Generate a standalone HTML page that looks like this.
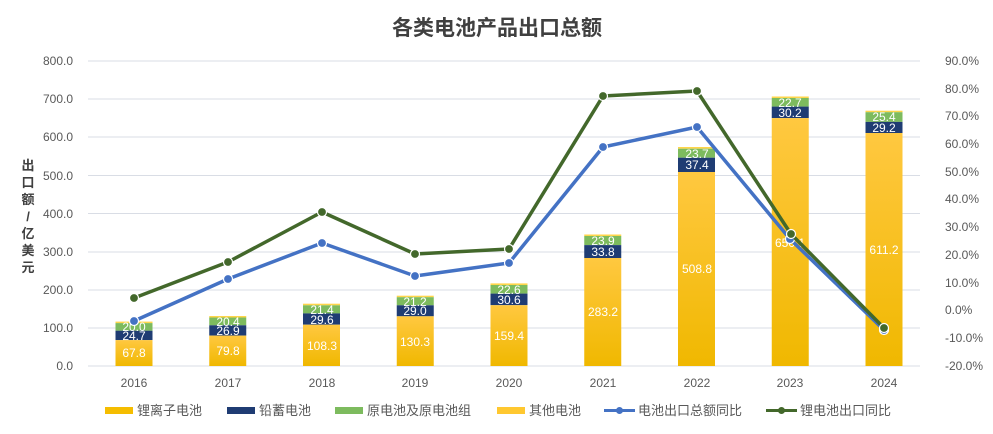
<!DOCTYPE html>
<html><head><meta charset="utf-8"><style>
html,body{margin:0;padding:0;background:#fff;}
svg{display:block;font-family:"Liberation Sans","Noto Sans CJK SC",sans-serif;}
</style></head><body>
<svg width="993" height="434" viewBox="0 0 993 434" xmlns="http://www.w3.org/2000/svg">
<defs>
<linearGradient id="gy" x1="0" y1="0" x2="0" y2="1"><stop offset="0" stop-color="#ffc840"/><stop offset="1" stop-color="#f0b800"/></linearGradient>
</defs>
<text x="497" y="35" text-anchor="middle" font-size="21" font-weight="bold" fill="#404040">各类电池产品出口总额</text>
<g stroke="#d9dde5" stroke-width="1">
<line x1="88" x2="920" y1="61" y2="61"/><line x1="88" x2="920" y1="99" y2="99"/><line x1="88" x2="920" y1="137" y2="137"/><line x1="88" x2="920" y1="175.5" y2="175.5"/><line x1="88" x2="920" y1="213.5" y2="213.5"/><line x1="88" x2="920" y1="252" y2="252"/><line x1="88" x2="920" y1="290" y2="290"/><line x1="88" x2="920" y1="328" y2="328"/><line x1="88" x2="920" y1="366" y2="366"/>
</g>
<g font-size="12" fill="#595959" text-anchor="end">
<text x="73" y="65">800.0</text><text x="73" y="103">700.0</text><text x="73" y="141">600.0</text><text x="73" y="180">500.0</text><text x="73" y="218">400.0</text><text x="73" y="256">300.0</text><text x="73" y="294">200.0</text><text x="73" y="332">100.0</text><text x="73" y="370">0.0</text>
</g>
<g font-size="12" fill="#595959" text-anchor="start">
<text x="945" y="65">90.0%</text><text x="945" y="93">80.0%</text><text x="945" y="120">70.0%</text><text x="945" y="148">60.0%</text><text x="945" y="176">50.0%</text><text x="945" y="203">40.0%</text><text x="945" y="231">30.0%</text><text x="945" y="259">20.0%</text><text x="945" y="287">10.0%</text><text x="945" y="314">0.0%</text><text x="945" y="342">-10.0%</text><text x="945" y="370">-20.0%</text>
</g>
<g font-size="13" fill="#404040" font-weight="bold" text-anchor="middle">
<text x="28" y="170">出</text><text x="28" y="187">口</text><text x="28" y="204">额</text><text x="28" y="221">/</text><text x="28" y="238">亿</text><text x="28" y="255">美</text><text x="28" y="272">元</text>
</g>
<g font-size="12" fill="#595959" text-anchor="middle">
<text x="134" y="387">2016</text><text x="228" y="387">2017</text><text x="322" y="387">2018</text><text x="415" y="387">2019</text><text x="509" y="387">2020</text><text x="603" y="387">2021</text><text x="697" y="387">2022</text><text x="790" y="387">2023</text><text x="884" y="387">2024</text>
</g>
<g>
<rect x="115.5" y="321.6" width="37" height="1.5" fill="#ffd54a"/><rect x="115.5" y="323.1" width="37" height="7.6" fill="#7dbb5e"/><rect x="115.5" y="330.7" width="37" height="9.4" fill="#1f3c73"/><rect x="115.5" y="340.1" width="37" height="25.9" fill="url(#gy)"/>
<rect x="209.25" y="316" width="37" height="1.5" fill="#ffd54a"/><rect x="209.25" y="317.5" width="37" height="7.8" fill="#7dbb5e"/><rect x="209.25" y="325.3" width="37" height="10.3" fill="#1f3c73"/><rect x="209.25" y="335.6" width="37" height="30.4" fill="url(#gy)"/>
<rect x="303" y="303.7" width="37" height="1.6" fill="#ffd54a"/><rect x="303" y="305.3" width="37" height="8.1" fill="#7dbb5e"/><rect x="303" y="313.4" width="37" height="11.3" fill="#1f3c73"/><rect x="303" y="324.7" width="37" height="41.3" fill="url(#gy)"/>
<rect x="396.75" y="295.7" width="37" height="1.5" fill="#ffd54a"/><rect x="396.75" y="297.2" width="37" height="8.1" fill="#7dbb5e"/><rect x="396.75" y="305.3" width="37" height="11" fill="#1f3c73"/><rect x="396.75" y="316.3" width="37" height="49.7" fill="url(#gy)"/>
<rect x="490.5" y="283.4" width="37" height="1.6" fill="#ffd54a"/><rect x="490.5" y="285" width="37" height="8.6" fill="#7dbb5e"/><rect x="490.5" y="293.6" width="37" height="11.6" fill="#1f3c73"/><rect x="490.5" y="305.2" width="37" height="60.8" fill="url(#gy)"/>
<rect x="584.25" y="234.5" width="37" height="1.5" fill="#ffd54a"/><rect x="584.25" y="236" width="37" height="9.1" fill="#7dbb5e"/><rect x="584.25" y="245.1" width="37" height="12.9" fill="#1f3c73"/><rect x="584.25" y="258" width="37" height="108" fill="url(#gy)"/>
<rect x="678" y="147" width="37" height="1.7" fill="#ffd54a"/><rect x="678" y="148.7" width="37" height="9" fill="#7dbb5e"/><rect x="678" y="157.7" width="37" height="14.3" fill="#1f3c73"/><rect x="678" y="172" width="37" height="194" fill="url(#gy)"/>
<rect x="771.75" y="96.5" width="37" height="1.5" fill="#ffd54a"/><rect x="771.75" y="98" width="37" height="8.6" fill="#7dbb5e"/><rect x="771.75" y="106.6" width="37" height="11.5" fill="#1f3c73"/><rect x="771.75" y="118.1" width="37" height="247.9" fill="url(#gy)"/>
<rect x="865.5" y="110.7" width="37" height="1.5" fill="#ffd54a"/><rect x="865.5" y="112.2" width="37" height="9.7" fill="#7dbb5e"/><rect x="865.5" y="121.9" width="37" height="11.1" fill="#1f3c73"/><rect x="865.5" y="133" width="37" height="233" fill="url(#gy)"/>
</g>
<g font-size="12" fill="#fff" text-anchor="middle">
<text x="134" y="357">67.8</text><text x="134" y="340">24.7</text><text x="134" y="331">20.0</text>
<text x="228" y="355">79.8</text><text x="228" y="335">26.9</text><text x="228" y="326">20.4</text>
<text x="322" y="350">108.3</text><text x="322" y="324">29.6</text><text x="322" y="314">21.4</text>
<text x="415" y="346">130.3</text><text x="415" y="315">29.0</text><text x="415" y="306">21.2</text>
<text x="509" y="340">159.4</text><text x="509" y="304">30.6</text><text x="509" y="294">22.6</text>
<text x="603" y="316">283.2</text><text x="603" y="256">33.8</text><text x="603" y="245">23.9</text>
<text x="697" y="273">508.8</text><text x="697" y="169">37.4</text><text x="697" y="158">23.7</text>
<text x="790" y="247">650.1</text><text x="790" y="117">30.2</text><text x="790" y="107">22.7</text>
<text x="884" y="254">611.2</text><text x="884" y="132">29.2</text><text x="884" y="121">25.4</text>
</g>
<polyline fill="none" stroke="#4472c4" stroke-width="3.5" stroke-linejoin="round" points="134,321 228,279 322,243 415,276 509,263 603,147 697,127 790,239 884,330"/>
<g fill="#4472c4" stroke="#fff" stroke-width="1.2">
<circle cx="134" cy="321" r="4.5"/><circle cx="228" cy="279" r="4.5"/><circle cx="322" cy="243" r="4.5"/><circle cx="415" cy="276" r="4.5"/><circle cx="509" cy="263" r="4.5"/><circle cx="603" cy="147" r="4.5"/><circle cx="697" cy="127" r="4.5"/><circle cx="790" cy="239" r="4.5"/><circle cx="884" cy="330" r="4.5"/>
</g>
<polyline fill="none" stroke="#43682b" stroke-width="3.5" stroke-linejoin="round" points="134,298 228,262 322,212 415,254 509,249 603,96 697,91 791,234 884,328"/>
<g fill="#43682b" stroke="#fff" stroke-width="1.2">
<circle cx="134" cy="298" r="4.5"/><circle cx="228" cy="262" r="4.5"/><circle cx="322" cy="212" r="4.5"/><circle cx="415" cy="254" r="4.5"/><circle cx="509" cy="249" r="4.5"/><circle cx="603" cy="96" r="4.5"/><circle cx="697" cy="91" r="4.5"/><circle cx="791" cy="234" r="4.5"/><circle cx="884" cy="328" r="4.5"/>
</g>
<g font-size="13" fill="#595959">
<rect x="105" y="407" width="28" height="7" fill="#f5bd00"/><text x="137" y="415">锂离子电池</text>
<rect x="227" y="407" width="28" height="7" fill="#1f3c73"/><text x="259" y="415">铅蓄电池</text>
<rect x="335" y="407" width="28" height="7" fill="#7dbb5e"/><text x="367" y="415">原电池及原电池组</text>
<rect x="497" y="407" width="28" height="7" fill="#ffc830"/><text x="529" y="415">其他电池</text>
<line x1="604" x2="635" y1="410.5" y2="410.5" stroke="#4472c4" stroke-width="3"/><circle cx="619.5" cy="410.5" r="3.5" fill="#4472c4"/><text x="638" y="415">电池出口总额同比</text>
<line x1="766" x2="797" y1="410.5" y2="410.5" stroke="#43682b" stroke-width="3"/><circle cx="781.5" cy="410.5" r="3.5" fill="#43682b"/><text x="800" y="415">锂电池出口同比</text>
</g>
</svg>
</body></html>
